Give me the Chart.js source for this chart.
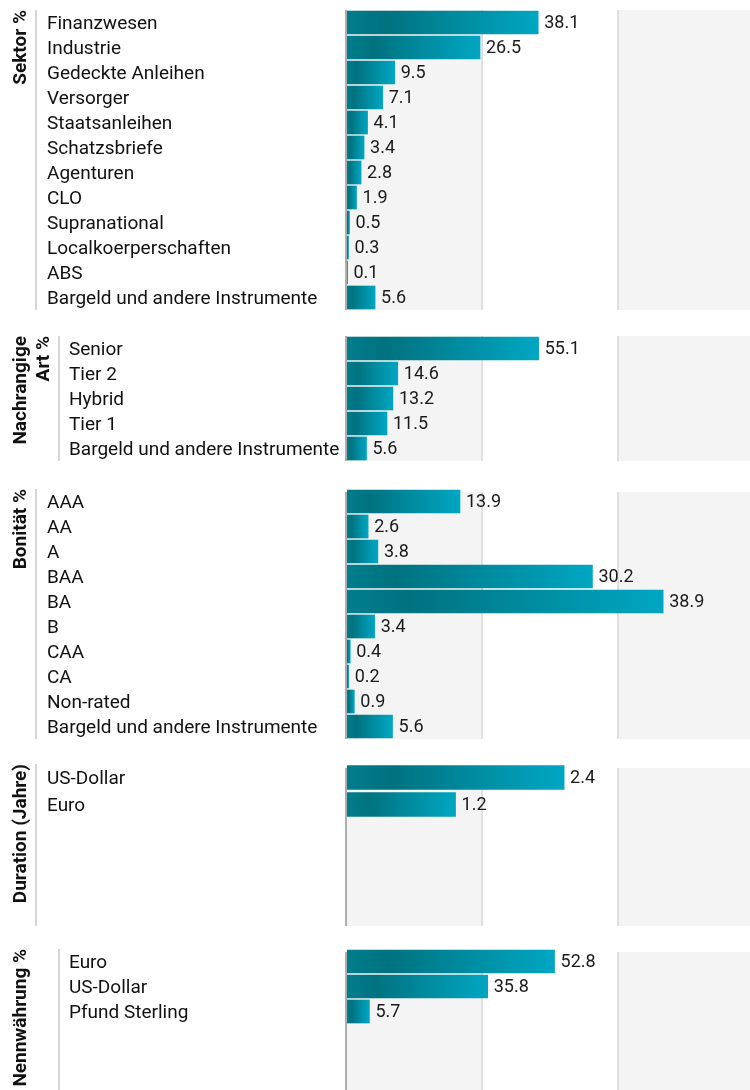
<!DOCTYPE html>
<html>
<head>
<meta charset="utf-8">
<script src="https://cdn.jsdelivr.net/npm/chart.js@4.4.1/dist/chart.umd.min.js"></script>
<style>
  html, body { margin: 0; padding: 0; background: #fff; overflow: hidden; }
  #page { position: relative; width: 750px; height: 1090px; overflow: hidden; }
  .panel { position: absolute; left: 0; width: 755px; }
</style>
</head>
<body>
<div id="page"></div>
<script>
// --- DATA ---
const sektorLabels = ['Finanzwesen', 'Industrie', 'Gedeckte Anleihen', 'Versorger', 'Staatsanleihen', 'Schatzsbriefe',
    'Agenturen', 'CLO', 'Supranational', 'Localkoerperschaften', 'ABS', 'Bargeld und andere Instrumente'];
const sektorValues = [38.1, 26.5, 9.5, 7.1, 4.1, 3.4, 2.8, 1.9, 0.5, 0.3, 0.1, 5.6];

const artLabels = ['Senior', 'Tier 2', 'Hybrid', 'Tier 1', 'Bargeld und andere Instrumente'];
const artValues = [55.1, 14.6, 13.2, 11.5, 5.6];

const bonitaetLabels = ['AAA', 'AA', 'A', 'BAA', 'BA', 'B', 'CAA', 'CA', 'Non-rated', 'Bargeld und andere Instrumente'];
const bonitaetValues = [13.9, 2.6, 3.8, 30.2, 38.9, 3.4, 0.4, 0.2, 0.9, 5.6];

const durationLabels = ['US-Dollar', 'Euro'];
const durationValues = [2.4, 1.2];

const waehrungLabels = ['Euro', 'US-Dollar', 'Pfund Sterling'];
const waehrungValues = [52.8, 35.8, 5.7];

// axis maximum of each panel (value at right edge of plot)
const scaleMax = [81.3, 117.3, 50.2, 4.51, 103.8];

// --- LAYOUT ---
const panels = [
    { title: 'Sektor %', labels: sektorLabels, values: sektorValues, top: 10, rows: 12, pitch: 25, bar: 23, bgOffset: 0, labelX: 47, lineX: 35 },
    { title: ['Nachrangige', 'Art %'], labels: artLabels, values: artValues, top: 336, rows: 5, pitch: 25, bar: 23, bgOffset: 0, labelX: 69, lineX: 58 },
    { title: 'Bonität %', labels: bonitaetLabels, values: bonitaetValues, top: 489, rows: 10, pitch: 25, bar: 23, bgOffset: 3, labelX: 47, lineX: 35 },
    { title: 'Duration (Jahre)', labels: durationLabels, values: durationValues, top: 764, rows: 6, pitch: 27, bar: 24, bgOffset: 4, labelX: 47, lineX: 35 },
    { title: 'Nennwährung %', labels: waehrungLabels, values: waehrungValues, top: 949, rows: 6, pitch: 25, bar: 23, bgOffset: 3, labelX: 69, lineX: 58 }
];

const PLOT_LEFT = 347;
const FONT = 'Roboto';

// stripes, dividers, axis line and the thin line between title and labels
const panelDecor = {
    id: 'panelDecor',
    beforeDatasetsDraw(chart, args, opts) {
        const { ctx, chartArea: a } = chart;
        const top = a.top + opts.bgOffset;
        const band = (a.right - a.left) / 3;
        ctx.save();
        ctx.fillStyle = '#f4f4f4';
        ctx.fillRect(a.left, top, band, a.bottom - top);
        ctx.fillRect(a.left + band * 2, top, band, a.bottom - top);
        ctx.fillStyle = '#e0e0e0';
        ctx.fillRect(a.left + band - 2, top, 2, a.bottom - top);
        ctx.fillRect(a.left + band * 2 - 2, top, 2, a.bottom - top);
        ctx.fillStyle = '#adadad';
        ctx.fillRect(a.left - 2, top, 2, a.bottom - top);
        ctx.fillStyle = '#d6d6d6';
        ctx.fillRect(opts.lineX, a.top, 2, a.bottom - a.top);
        ctx.restore();
    }
};

const valueLabels = {
    id: 'valueLabels',
    afterDatasetsDraw(chart) {
        const { ctx } = chart;
        const meta = chart.getDatasetMeta(0);
        const data = chart.data.datasets[0].data;
        ctx.save();
        ctx.font = '18px ' + FONT;
        ctx.fillStyle = '#1a1a1a';
        ctx.textBaseline = 'middle';
        ctx.textAlign = 'left';
        meta.data.forEach((bar, i) => {
            ctx.fillText(data[i].x.toFixed(1), bar.x + 6, bar.y + 1);
        });
        ctx.restore();
    }
};

function barGradient(c) {
    const chart = c.chart;
    if (!chart.chartArea || c.type !== 'data') return '#008a9c';
    const xs = chart.scales.x;
    const x0 = xs.getPixelForValue(0);
    const x1 = Math.max(xs.getPixelForValue(c.raw.x), x0 + 1);
    const g = chart.ctx.createLinearGradient(x0, 0, x1, 0);
    g.addColorStop(0, '#007d8d');
    g.addColorStop(0.2, '#00727f');
    g.addColorStop(0.6, '#008da2');
    g.addColorStop(1, '#00a6c2');
    return g;
}

const page = document.getElementById('page');

panels.forEach((p, idx) => {
    const box = document.createElement('div');
    box.className = 'panel';
    box.style.top = p.top + 'px';
    box.style.height = (p.rows * p.pitch) + 'px';
    const canvas = document.createElement('canvas');
    box.appendChild(canvas);
    page.appendChild(box);

    const lines = Array.isArray(p.title) ? p.title.length : 1;
    const padTop = 10;
    const padBottom = p.labelX - padTop - lines * 23;

    new Chart(canvas, {
        type: 'bar',
        data: {
            datasets: [{
                data: p.values.map((v, i) => ({ x: v, y: i })),
                backgroundColor: barGradient,
                borderWidth: 0,
                barThickness: p.bar
            }]
        },
        options: {
            indexAxis: 'y',
            responsive: true,
            maintainAspectRatio: false,
            animation: false,
            layout: { padding: 0 },
            plugins: {
                legend: { display: false },
                tooltip: { enabled: false },
                title: {
                    display: true,
                    position: 'left',
                    align: 'end',
                    text: p.title,
                    color: '#111',
                    font: { family: FONT, size: 19, weight: 'bold', lineHeight: '23px' },
                    padding: { top: padTop, bottom: padBottom }
                },
                panelDecor: { bgOffset: p.bgOffset, lineX: p.lineX }
            },
            scales: {
                x: { type: 'linear', display: false, min: 0, max: scaleMax[idx] },
                y: {
                    type: 'linear',
                    reverse: true,
                    offset: false,
                    bounds: 'data',
                    grace: 0,
                    min: -0.5,
                    max: p.rows - 0.5,
                    grid: { display: false, offset: false },
                    border: { display: false },
                    afterBuildTicks: s => { s.ticks = p.labels.map((l, i) => ({ value: i })); },
                    afterFit: s => {
                        s.width = PLOT_LEFT - p.labelX;
                        s.paddingTop = 0;
                        s.paddingBottom = 0;
                    },
                    ticks: {
                        autoSkip: false,
                        crossAlign: 'far',
                        labelOffset: 2,
                        color: '#111',
                        font: { family: FONT, size: 19 },
                        callback: v => p.labels[v]
                    }
                }
            }
        },
        plugins: [panelDecor, valueLabels]
    });
});
</script>
</body>
</html>
